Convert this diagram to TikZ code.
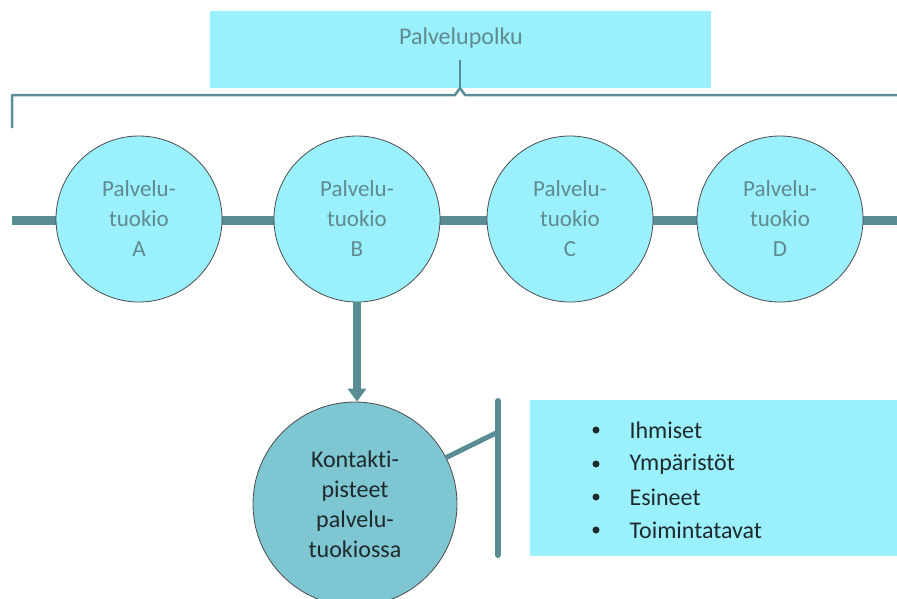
\documentclass[tikz,border=0pt]{standalone}
\usepackage{fontspec}
\setmainfont[Ligatures=NoCommon]{Carlito}
\usetikzlibrary{arrows.meta}
\definecolor{lightcyan}{HTML}{9AF0FC}
\definecolor{teal}{HTML}{5A8C93}
\definecolor{greytext}{HTML}{5F8A8F}
\definecolor{contact}{HTML}{7EC6D2}
\definecolor{darktext}{HTML}{1E2A2C}
\tikzset{
  phase/.style={circle, draw=black!70, line width=0.8pt, fill=lightcyan, minimum size=166pt, inner sep=0pt, align=center, text=greytext, font=\fontsize{23}{30}\selectfont},
  bar/.style={draw=teal, line width=9pt},
  thin/.style={draw=teal, line width=2.5pt},
}
\begin{document}
\begin{tikzpicture}[x=1pt,y=-1pt]
\useasboundingbox (0,0) rectangle (897,598);
% top box
\node[fill=lightcyan, minimum width=501pt, minimum height=77pt, inner sep=0pt, anchor=north west] (top) at (210,11) {};
\node[text=greytext, font=\fontsize{24}{28}\selectfont] (toptext) at (461,38) {Palvelupolku};
% brace
\coordinate (bl) at (12,128);
\coordinate (br) at (897,95);
\draw[thin, line join=round] (bl) -- (12,95) -- (455,95) -- (460,88) -- (465,95) -- (br);
\draw[thin] (460,60) -- (460,88);
% main bar
\coordinate (barL) at (12,220);
\coordinate (barR) at (897,220);
\draw[bar] (barL) -- (barR);
% circles
\node[phase] (A) at (139,219) {Palvelu-\\tuokio\\A};
\node[phase] (B) at (357,219) {Palvelu-\\tuokio\\B};
\node[phase] (C) at (570,219) {Palvelu-\\tuokio\\C};
\node[phase] (D) at (780,219) {Palvelu-\\tuokio\\D};
% contact circle
\node[circle, draw=black!70, line width=0.8pt, fill=contact, minimum size=204pt, inner sep=0pt, align=center, text=darktext, font=\fontsize{24}{30}\selectfont] (K) at (355,504) {Kontakti-\\pisteet\\palvelu-\\tuokiossa};
\draw[draw=teal, line width=8pt, -{Triangle[length=13pt,width=18pt]}] (B.south) -- (B.south |- K.north);
% side bar and connector
\coordinate (vt) at (498,401);
\coordinate (vb) at (498,555);
\draw[draw=teal, line width=6pt, line cap=round] (vt) -- (vb);
\coordinate (vm) at (498,432);
\draw[draw=teal, line width=5pt] (K.27) -- (vm);
% list box
\node[fill=lightcyan, minimum width=367pt, minimum height=156pt, inner sep=0pt, anchor=north west] (list) at (530,400) {};
\foreach \t/\y/\n in {Ihmiset/430/i1, Ympäristöt/464/i2, Esineet/497/i3, Toimintatavat/530/i4}{
  \node[circle, fill=darktext, inner sep=0pt, minimum size=7pt] (b\n) at (596,\y) {};
  \node[anchor=west, text=darktext, font=\fontsize{24}{28}\selectfont] (\n) at (626,\y) {\t};
}
\end{tikzpicture}
\end{document}
